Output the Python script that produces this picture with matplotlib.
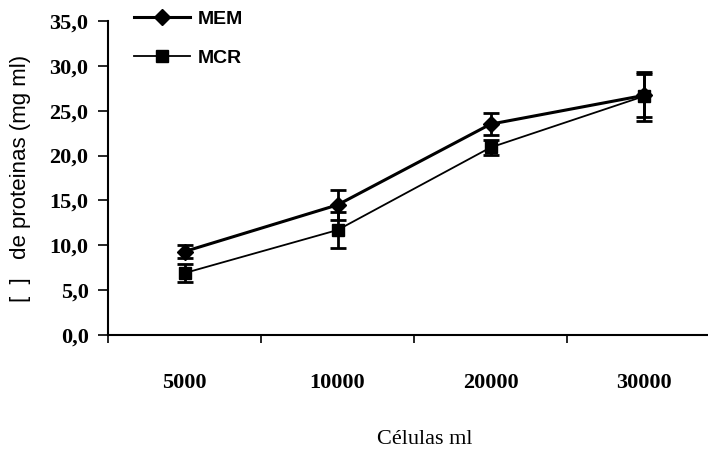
import matplotlib
matplotlib.use("Agg")
import matplotlib.pyplot as plt
from matplotlib.lines import Line2D
import numpy as np

categories = ["5000", "10000", "20000", "30000"]
mem_values = [9.3, 14.5, 23.5, 26.7]
mem_err = [0.7, 1.7, 1.2, 2.4]
mcr_values = [6.9, 11.7, 20.9, 26.6]
mcr_err = [1.0, 2.0, 0.85, 2.7]
y_ticks = [0, 5, 10, 15, 20, 25, 30, 35]
y_tick_labels = ["0,0", "5,0", "10,0", "15,0", "20,0", "25,0", "30,0", "35,0"]

fig = plt.figure(figsize=(7.08, 4.55), dpi=100)
ax = fig.add_axes([108/708, 1-335/455, 1-108/708, (335-21)/455])

x = np.arange(len(categories))
serif = "Liberation Serif"
sans = "Liberation Sans"

ax.errorbar(x, mem_values, yerr=mem_err, color="black", lw=2.2, marker="D",
            ms=8, capsize=6, capthick=2, elinewidth=2, zorder=3)
ax.errorbar(x, mcr_values, yerr=mcr_err, color="black", lw=1.3, marker="s",
            ms=8, capsize=6, capthick=2, elinewidth=2, zorder=3)

ax.set_yticks(y_ticks)
ax.set_yticklabels(y_tick_labels, fontfamily=serif, fontsize=16, fontweight="bold")
ax.set_xticks(np.arange(len(categories) + 1) - 0.5)
ax.set_xticklabels([])
ax.set_xticks(x, minor=True)
ax.set_xticklabels(categories, minor=True, fontfamily=serif, fontsize=16, fontweight="bold")
ax.set_ylim(0, 35)
ax.set_xlim(-0.5, -0.5 + 600/153)
ax.tick_params(axis="x", which="minor", length=0, pad=27)
ax.tick_params(axis="x", which="major", length=6, direction="out", width=1.2)
ax.tick_params(axis="y", length=7, direction="out", width=1.2, pad=7)

for s in ["top", "right"]:
    ax.spines[s].set_visible(False)
ax.spines["left"].set_linewidth(1.5)
ax.spines["bottom"].set_linewidth(1.5)

ax.set_xlabel("Células ml", fontfamily=serif, fontsize=16)
ax.xaxis.set_label_coords((425-108)/600, -(439-335)/314, transform=ax.transAxes)
ax.xaxis.label.set_va("center")
ax.set_ylabel("[  ]   de proteinas (mg ml)", fontfamily=sans, fontsize=16)
ax.yaxis.set_label_coords(-(108-21)/600, 0.5)
ax.yaxis.label.set_va("center")

handles = [
    Line2D([], [], color="black", lw=2.2, marker="D", ms=8),
    Line2D([], [], color="black", lw=1.3, marker="s", ms=8),
]
leg = ax.legend(handles, ["MEM", "MCR"], loc="upper left",
                bbox_to_anchor=(134/708, 1 - 10/455),
                bbox_transform=fig.transFigure, frameon=False,
                prop={"family": sans, "weight": "bold", "size": 14},
                handlelength=2.9, labelspacing=1.1, handletextpad=0.4,
                borderpad=0, borderaxespad=0)

fig.savefig("out.png", dpi=100)
